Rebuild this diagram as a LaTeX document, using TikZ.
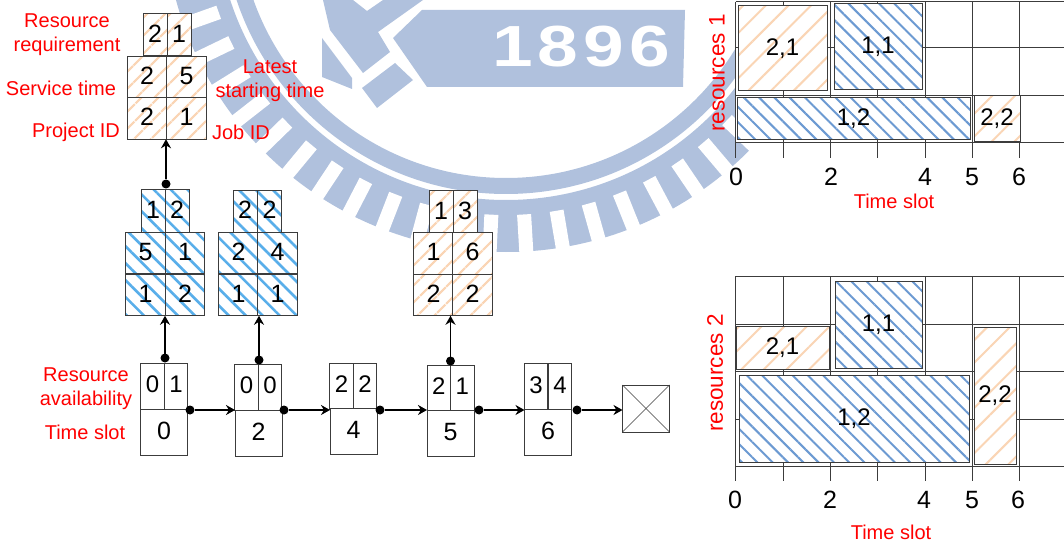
\documentclass[tikz,border=0pt]{standalone}
\usepackage{fontspec}
\usepackage{xcolor}
\usepackage{tikz}
\usetikzlibrary{arrows.meta, patterns.meta, calc}
\setmainfont{Liberation Sans}
\newfontfamily\yearfont[LetterSpace=7]{Liberation Sans}

\definecolor{sealblue}{HTML}{B0C1DD}
\definecolor{hatchorange}{HTML}{FAD5B5}
\definecolor{hatchsky}{HTML}{58AEEA}
\definecolor{hatchsteel}{HTML}{6C9AD2}
\definecolor{edgegray}{HTML}{3C3C3C}

\tikzset{
    cell/.style={draw=edgegray, line width=1pt, inner sep=0pt, outer sep=0pt, text=black, text depth=3pt,
        font=\fontsize{25}{25}\selectfont},
    topcell/.style={cell, minimum width=24pt, minimum height=42pt},
    midcell/.style={cell, minimum width=39.5pt, minimum height=41.5pt},
    slotcell/.style={cell, fill=white, minimum width=23.5pt, minimum height=46pt, font=\fontsize{24}{24}\selectfont},
    timecell/.style={cell, fill=white, minimum width=47pt, minimum height=46pt},
    orangejob/.style={preaction={fill=white}, pattern={Lines[angle=45, distance=13pt, line width=2.6pt]}, pattern color=hatchorange},
    bluejob/.style={preaction={fill=white}, pattern={Lines[angle=-45, distance=12pt, line width=2.6pt]}, pattern color=hatchsky},
    orangetask/.style={cell, font=\fontsize{24}{24}\selectfont, preaction={fill=white}, pattern={Lines[angle=45, distance=16pt, line width=2pt]}, pattern color=hatchorange},
    bluetask/.style={cell, font=\fontsize{24}{24}\selectfont, preaction={fill=white}, pattern={Lines[angle=-45, distance=10.8pt, line width=2pt]}, pattern color=hatchsteel},
    dot/.style={circle, fill=black, inner sep=0pt, outer sep=0pt, minimum size=9pt},
    link/.style={line width=1.7pt, -{Stealth[length=9pt, width=10pt]}},
    redlabel/.style={text=red, align=center, inner sep=0pt, font=\fontsize{20}{24}\selectfont},
    ticklabel/.style={text=black, inner sep=0pt, font=\fontsize{25}{25}\selectfont},
    gridline/.style={draw=edgegray, line width=1pt},
}

\begin{document}
\begin{tikzpicture}[x=1pt, y=-1pt]
    \useasboundingbox (0,0) rectangle (1064,545);
    \clip (0,0) rectangle (1064,545);

    % Seal
    \draw[sealblue, line width=16pt] (506,-90) circle (276pt);
    \draw[sealblue, line width=52pt] (506,-90) circle (316pt);
    \foreach \a in {0,...,24}
        \draw[white, line width=14pt] ($(506,-90)+({86.6-6.15*\a}:305)$) -- ($(506,-90)+({86.6-6.15*\a}:350)$);
    \foreach \a in {1,...,14}
        \draw[white, line width=14pt] ($(506,-90)+({86.6+6.15*\a}:305)$) -- ($(506,-90)+({86.6+6.15*\a}:350)$);
    \fill[sealblue] (422,10) -- (685,10) -- (683,87) -- (427,87) -- (393,38) -- cycle;
    \fill[sealblue] (362,88) -- (395,63) -- (413,80) -- (377,108) -- cycle;
    \fill[sealblue] (323,0) -- (330,30) -- (363,73) -- (390,52) -- (378,32) -- (423,0) -- (383,0) -- (367,11) -- (353,0) -- cycle;
    \fill[sealblue] (322,38) -- (352,78) -- (352,89) -- (322,77) -- cycle;
    \node[text=white, xscale=1.26, inner sep=0pt, font=\yearfont\bfseries\fontsize{58}{58}\selectfont] (year) at (581,47) {1896};

    % Schedule 1
    \fill[white] (735.7,0) rectangle (1064,143);
    \foreach \gx in {735.7,783,830,877.7,925,972,1019.7}
        \draw[gridline] (\gx,2) -- (\gx,158);
    \foreach \gy in {2,48,96,143}
        \draw[gridline] (735.7,\gy) -- (1064,\gy);
    \node[orangetask, minimum width=89pt, minimum height=85pt] (ra) at (782.5,48.5) {2,1};
    \node[bluetask, minimum width=88pt, minimum height=86pt] (rb) at (878,47) {1,1};
    \node[bluetask, minimum width=233pt, minimum height=42pt] (rc) at (853.5,119) {1,2};
    \node[orangetask, minimum width=46pt, minimum height=46pt] (rd) at (997,119) {2,2};
    \node[ticklabel] (ra0) at (736,177) {0};
    \node[ticklabel] (ra2) at (831,177) {2};
    \node[ticklabel] (ra4) at (925,177) {4};
    \node[ticklabel] (ra5) at (972,177) {5};
    \node[ticklabel] (ra6) at (1019,177) {6};
    \node[redlabel] (rtime) at (894,201.5) {Time slot};
    \node[redlabel, rotate=90, font=\fontsize{22.5}{22.5}\selectfont] (rname) at (717,73) {resources 1};

    % Schedule 2
    \foreach \gx in {735.7,783,830,877.7,925,972,1019.7}
        \draw[gridline] (\gx,276) -- (\gx,481);
    \foreach \gy in {276,324,371,419,466}
        \draw[gridline] (735.7,\gy) -- (1064,\gy);
    \node[orangetask, minimum width=93pt, minimum height=43pt] (qa) at (782.5,347.5) {2,1};
    \node[bluetask, minimum width=87pt, minimum height=87pt] (qb) at (878.5,324.5) {1,1};
    \node[bluetask, minimum width=230pt, minimum height=87pt] (qc) at (854,418.5) {1,2};
    \node[orangetask, minimum width=42pt, minimum height=137pt] (qd) at (995,395.5) {2,2};
    \node[ticklabel] (qa0) at (735,500) {0};
    \node[ticklabel] (qa2) at (830,500) {2};
    \node[ticklabel] (qa4) at (924,500) {4};
    \node[ticklabel] (qa5) at (972,500) {5};
    \node[ticklabel] (qa6) at (1018,500) {6};
    \node[redlabel] (qtime) at (891,532) {Time slot};
    \node[redlabel, rotate=90, font=\fontsize{22.5}{22.5}\selectfont] (qname) at (715,373) {resources 2};

    % Job 2,1
    \node[topcell, orangejob] (a1) at (155,35) {2};
    \node[topcell, orangejob] (a2) at (179,35) {1};
    \node[midcell, orangejob] (a3) at (147,77) {2};
    \node[midcell, orangejob] (a4) at (186.5,77) {5};
    \node[midcell, orangejob] (a5) at (147,118.5) {2};
    \node[midcell, orangejob] (a6) at (186.5,118.5) {1};

    % Job 1,2
    \node[topcell, bluejob] (b1) at (153,211) {1};
    \node[topcell, bluejob] (b2) at (177,211) {2};
    \node[midcell, bluejob] (b3) at (145.5,253) {5};
    \node[midcell, bluejob] (b4) at (185,253) {1};
    \node[midcell, bluejob] (b5) at (145.5,295) {1};
    \node[midcell, bluejob] (b6) at (185,295) {2};

    % Job 1,1
    \node[topcell, bluejob] (c1) at (245,211.5) {2};
    \node[topcell, bluejob] (c2) at (269.5,211.5) {2};
    \node[midcell, bluejob] (c3) at (238.5,253) {2};
    \node[midcell, bluejob] (c4) at (277.5,253) {4};
    \node[midcell, bluejob] (c5) at (238.5,295) {1};
    \node[midcell, bluejob] (c6) at (277.5,295) {1};

    % Job 2,2
    \node[topcell, orangejob] (d1) at (441,212) {1};
    \node[topcell, orangejob] (d2) at (465,212) {3};
    \node[midcell, orangejob] (d3) at (433.5,253.5) {1};
    \node[midcell, orangejob] (d4) at (472.5,253.5) {6};
    \node[midcell, orangejob] (d5) at (433.5,295) {2};
    \node[midcell, orangejob] (d6) at (472.5,295) {2};

    % Time slots
    \node[slotcell] (s0a) at (152.5,386) {0};
    \node[slotcell] (s0b) at (176,386) {1};
    \node[timecell] (s0) at (164,432) {0};
    \node[slotcell] (s2a) at (246.5,387) {0};
    \node[slotcell] (s2b) at (270,387) {0};
    \node[timecell] (s2) at (258.5,433) {2};
    \node[slotcell] (s4a) at (341.5,386) {2};
    \node[slotcell] (s4b) at (365,386) {2};
    \node[timecell] (s4) at (353.5,431.5) {4};
    \node[slotcell] (s5a) at (438.75,388) {2};
    \node[slotcell] (s5b) at (462.25,388) {1};
    \node[timecell] (s5) at (450.5,433.5) {5};
    \node[slotcell] (s6a) at (536,386.5) {3};
    \node[slotcell] (s6b) at (560,386.5) {4};
    \node[timecell] (s6) at (548,432) {6};
    \node[cell, fill=white, minimum width=47pt, minimum height=47pt] (tail) at (646,408.5) {};
    \draw[edgegray] (tail.north west) -- (tail.south east);
    \draw[edgegray] (tail.north east) -- (tail.south west);

    % Links
    \node[dot] (up0) at (165,358) {};
    \node[dot] (up2) at (259,360) {};
    \node[dot] (up5) at (450.5,361) {};
    \node[dot] (upb) at (166,184) {};
    \draw[link] (up0) -- (up0 |- b5.south);
    \draw[link] (up2) -- (up2 |- c5.south);
    \draw[link] (up5) -- (up5 |- d5.south);
    \draw[link] (upb) -- (upb |- a5.south);
    \node[dot] (next0) at (190,410) {};
    \node[dot] (next2) at (284,410) {};
    \node[dot] (next4) at (380,410) {};
    \node[dot] (next5) at (479,410) {};
    \node[dot] (next6) at (577,410) {};
    \draw[link] (next0) -- (next0 -| s2.west);
    \draw[link] (next2) -- (next2 -| s4.west);
    \draw[link] (next4) -- (next4 -| s5.west);
    \draw[link] (next5) -- (next5 -| s6.west);
    \draw[link] (next6) -- (next6 -| tail.west);

    % Labels
    \node[redlabel] (lreq) at (67,35) {Resource\\requirement};
    \node[redlabel] (lserv) at (61,88) {Service time};
    \node[redlabel] (llate) at (270,81) {Latest\\starting time};
    \node[redlabel] (lproj) at (76,132) {Project ID};
    \node[redlabel] (ljob) at (241,132) {Job ID};
    \node[redlabel] (lavail) at (86,389) {Resource\\availability};
    \node[redlabel] (lslot) at (85,432) {Time slot};
\end{tikzpicture}
\end{document}
